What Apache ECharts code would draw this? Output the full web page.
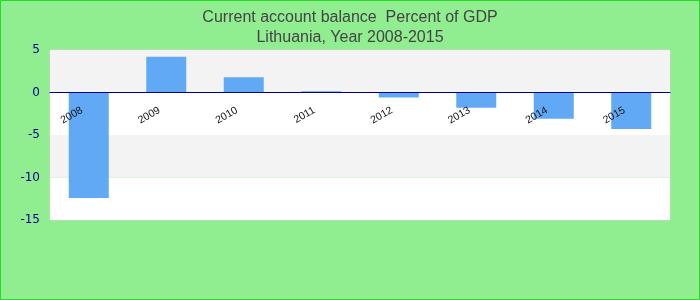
<!DOCTYPE html>
<html><head><meta charset="utf-8">
<script src="https://cdn.jsdelivr.net/npm/echarts@6/dist/echarts.min.js"></script>
<style>html,body{margin:0;padding:0;background:#90EE90}#c{width:700px;height:300px}</style>
</head><body><div id="c"></div>
<script>
const categories = ['2008','2009','2010','2011','2012','2013','2014','2015'];
const values = [-12.4, 4.2, 1.8, 0.15, -0.6, -1.8, -3.1, -4.3];
const titleLines = ['Current account balance  Percent of GDP', 'Lithuania, Year 2008-2015'];

const chart = echarts.init(document.getElementById('c'), null, {renderer:'canvas'});
chart.setOption({
  backgroundColor: '#90EE90',
  animation: false,
  title: {
    text: titleLines.join('\n'),
    left: 'center', top: 3,
    textStyle: {fontFamily: 'Liberation Sans, Arial', fontSize: 16, fontWeight: 'normal', color: '#444', lineHeight: 20}
  },
  graphic: [{
    type: 'rect', shape: {x: 0.5, y: 0.5, width: 699, height: 299},
    style: {fill: 'none', stroke: '#22dd22', lineWidth: 1}, z: 100
  }],
  grid: {left: 50, right: 30, top: 50, bottom: 80, show: true, borderColor: '#d0d0d0', borderWidth: 1, backgroundColor: 'transparent'},
  xAxis: {
    type: 'category', data: categories, position: 'bottom', offset: -127.5, z: 10,
    axisLine: {onZero: false, lineStyle: {color: '#00008B', width: 1}},
    axisTick: {show: false},
    axisLabel: {rotate: 30, margin: 13, padding: [0, 8, 0, 0], fontFamily: 'Liberation Sans, Arial', fontSize: 10.5, color: '#111'},
    splitLine: {show: false}
  },
  yAxis: {
    type: 'value', min: -15, max: 5, interval: 5,
    axisLine: {show: false}, axisTick: {show: false},
    axisLabel: {margin: 10, fontFamily: 'DejaVu Sans', fontSize: 12, color: '#00008B'},
    splitLine: {show: false},
    splitArea: {show: true, areaStyle: {color: ['#ffffff', '#f3f3f3']}}
  },
  series: [{
    type: 'bar', data: values, barWidth: 40, z: 2,
    itemStyle: {color: '#62a9f5'}
  }]
});
</script></body></html>
